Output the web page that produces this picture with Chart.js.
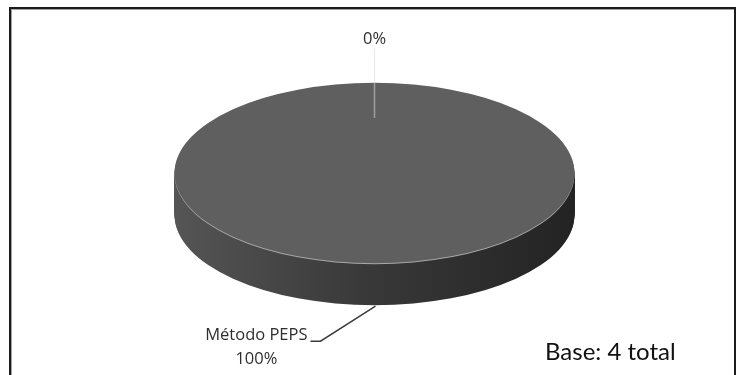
<!DOCTYPE html>
<html>
<head>
<meta charset="utf-8">
<script src="https://cdn.jsdelivr.net/npm/chart.js@4.4.0/dist/chart.umd.min.js"></script>
<style>
html,body{margin:0;padding:0;background:#fff;overflow:hidden}
#wrap{position:relative;width:741px;height:375px}
#frame{position:absolute;left:9px;top:7px;width:727px;height:420px;border:2px solid #1c1c1c;box-shadow:inset 1px 1px 0 #a0a0a0;box-sizing:border-box}
#c{position:absolute;left:0;top:0}
</style>
</head>
<body>
<div id="wrap">
<div id="frame"></div>
<canvas id="c" width="741" height="375"></canvas>
</div>
<script>
// ---- data ----
const categories = ['Método PEPS', 'Otro método'];
const counts = [4, 0];
const sliceColors = ['#5f5f5f', '#7a7a7a'];
const baseLabel = 'Base: 4 total';

// ---- 3D look parameters ----
const SQUASH = 0.451;   // vertical squash of the pie top
const DEPTH = 42;       // thickness of the pie side
const TOP_CY = 173;     // screen centre of the pie top

function squash(ctx, arc) {
  ctx.translate(arc.x, TOP_CY);
  ctx.scale(1, SQUASH);
  ctx.translate(-arc.x, -arc.y);
}
function drawWith(arc, ctx, color) {
  if (!(arc.circumference > 0)) return;
  const proxy = Object.create(arc);
  proxy.options = Object.assign({}, arc.options, {backgroundColor: color, borderWidth: 0});
  arc.draw.call(proxy, ctx);
}

const pie3d = {
  id: 'pie3d',
  beforeDatasetsDraw(chart) {
    const ctx = chart.ctx;
    const arcs = chart.getDatasetMeta(0).data;
    const a0 = arcs[0];
    const r = a0.outerRadius;
    const g = ctx.createLinearGradient(a0.x - r, 0, a0.x + r, 0);
    g.addColorStop(0, '#555555');
    g.addColorStop(0.45, '#3a3a3a');
    g.addColorStop(1, '#232323');
    for (let d = DEPTH; d >= 1; d--) {
      ctx.save();
      ctx.translate(0, d);
      squash(ctx, a0);
      arcs.forEach(a => drawWith(a, ctx, d === 1 ? '#a9a9a9' : g));
      ctx.restore();
    }
    ctx.save();
    squash(ctx, a0);
  },
  afterDatasetsDraw(chart) {
    const ctx = chart.ctx;
    ctx.restore();
    const arcs = chart.getDatasetMeta(0).data;
    const a0 = arcs[0];
    const r = a0.outerRadius, ry = r * SQUASH;
    const total = counts.reduce((s, v) => s + v, 0);
    ctx.save();
    arcs.forEach((a, i) => {
      const mid = (a.startAngle + a.endAngle) / 2;
      const px = a0.x + Math.cos(mid) * r;
      const py = TOP_CY + Math.sin(mid) * ry;
      const pct = Math.round(counts[i] / total * 100) + '%';
      ctx.font = '16.5px "Open Sans"';
      ctx.fillStyle = '#2e2e2e';
      if (Math.sin(mid) > 0) {
        const ay = py + DEPTH;
        const ex = px - 54, ey = ay + 36;
        const tx = px - 64;
        ctx.strokeStyle = '#3a3a3a';
        ctx.lineWidth = 1.4;
        ctx.beginPath();
        ctx.moveTo(px + 1, ay + 1);
        ctx.lineTo(ex, ey);
        ctx.lineTo(tx, ey);
        ctx.stroke();
        const name = categories[i];
        const w = ctx.measureText(name).width;
        const right = tx - 3;
        ctx.textAlign = 'right';
        ctx.textBaseline = 'alphabetic';
        ctx.fillText(name, right, ey - 1);
        ctx.textAlign = 'center';
        ctx.fillText(pct, right - w / 2, ey + 23);
      } else {
        ctx.strokeStyle = '#e6e6e6';
        ctx.lineWidth = 1;
        ctx.beginPath();
        ctx.moveTo(px, 49);
        ctx.lineTo(px, py);
        ctx.stroke();
        ctx.strokeStyle = '#9c9c9c';
        ctx.lineWidth = 1.6;
        ctx.beginPath();
        ctx.moveTo(px, py);
        ctx.lineTo(px, py + ry * 0.39);
        ctx.stroke();
        ctx.textAlign = 'center';
        ctx.textBaseline = 'alphabetic';
        ctx.fillText(pct, px, 44);
      }
    });
    ctx.font = '24px Lato';
    ctx.fillStyle = '#111';
    ctx.textAlign = 'left';
    ctx.fillText(baseLabel, 545, 360);
    ctx.restore();
  }
};

new Chart(document.getElementById('c'), {
  type: 'pie',
  data: {
    labels: categories,
    datasets: [{
      data: counts,
      backgroundColor: sliceColors,
      borderWidth: 0,
      radius: 200,
      clip: false
    }]
  },
  options: {
    responsive: false,
    animation: false,
    layout: {padding: {left: 8, right: 0, top: 0, bottom: 0}},
    plugins: {legend: {display: false}, tooltip: {enabled: false}}
  },
  plugins: [pie3d]
});
</script>
</body>
</html>
